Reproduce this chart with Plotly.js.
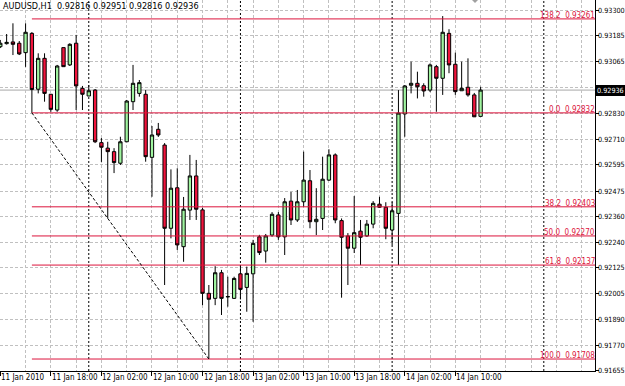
<!DOCTYPE html>
<html><head><meta charset="utf-8">
<script src="https://cdn.plot.ly/plotly-3.0.1.min.js"></script>
<style>html,body{margin:0;padding:0;background:#fff;overflow:hidden}#chart{width:625px;height:386px}</style>
</head><body><div id="chart"></div>
<script>
const chartTitle = 'AUDUSD,H1\u00a0\u00a00.92816 0.92951 0.92816 0.92936';
const firstBar = [2010, 0, 11, 10]; // 11 Jan 2010 10:00, H1 bars

const opens = [
0.93134,0.93148,0.93156,0.93150,0.93107,0.93195,0.92940,0.93081,0.92917,0.92845,
0.93130,0.93051,0.93150,0.92944,0.92909,0.92936,0.92696,0.92671,0.92655,0.92602,
0.92700,0.92883,0.92921,0.92917,0.92629,0.92757,0.92685,0.92305,0.92490,0.92221,
0.92388,0.92544,0.92389,0.92008,0.91985,0.92102,0.91992,0.91985,0.92097,0.92035,
0.92097,0.92266,0.92201,0.92274,0.92366,0.92266,0.92429,0.92343,0.92426,0.92522,
0.92335,0.92350,0.92525,0.92640,0.92340,0.92270,0.92214,0.92292,0.92270,0.92324,
0.92415,0.92401,0.92297,0.92373,0.92827,0.92958,0.92967,0.92956,0.92936,0.93043,
0.92990,0.93195,0.93054,0.92933,0.92949,0.92914,0.92816];
const highs = [
0.93165,0.93192,0.93241,0.93160,0.93241,0.93201,0.93104,0.93104,0.92918,0.93051,
0.93130,0.93150,0.93188,0.92955,0.92959,0.92941,0.92717,0.92700,0.92671,0.92723,
0.92891,0.93051,0.92982,0.92936,0.92772,0.92786,0.92694,0.92574,0.92579,0.92448,
0.92640,0.92617,0.92398,0.92046,0.92132,0.92115,0.92084,0.92084,0.92137,0.92130,
0.92252,0.92275,0.92279,0.92379,0.92379,0.92443,0.92471,0.92480,0.92655,0.92571,
0.92488,0.92632,0.92666,0.92647,0.92350,0.92283,0.92452,0.92343,0.92343,0.92429,
0.92449,0.92424,0.92424,0.92936,0.92959,0.93066,0.93020,0.92967,0.93058,0.93051,
0.93274,0.93214,0.93107,0.93066,0.93081,0.92923,0.92951];
const lows = [
0.93128,0.93144,0.93096,0.93096,0.93042,0.92832,0.92921,0.92883,0.92837,0.92837,
0.93043,0.93046,0.92845,0.92845,0.92909,0.92694,0.92608,0.92350,0.92557,0.92594,
0.92699,0.92845,0.92906,0.92609,0.92449,0.92722,0.92046,0.92259,0.92206,0.92152,
0.92343,0.92343,0.91954,0.91708,0.91954,0.91909,0.91947,0.91982,0.91980,0.91924,
0.91878,0.92183,0.92148,0.92266,0.92252,0.92183,0.92320,0.92334,0.92403,0.92305,
0.92274,0.92297,0.92521,0.92328,0.91988,0.92046,0.92192,0.92137,0.92266,0.92305,
0.92398,0.92255,0.92228,0.92137,0.92723,0.92921,0.92898,0.92906,0.92927,0.92837,
0.92914,0.93013,0.92914,0.92932,0.92906,0.92813,0.92816];
const closes = [
0.93150,0.93154,0.93145,0.93101,0.93200,0.92939,0.93081,0.92921,0.92848,0.93046,
0.93043,0.93145,0.92955,0.92917,0.92933,0.92700,0.92675,0.92655,0.92605,0.92700,
0.92886,0.92967,0.92970,0.92632,0.92731,0.92731,0.92305,0.92488,0.92229,0.92392,
0.92544,0.92392,0.92008,0.91981,0.92102,0.91985,0.91993,0.92076,0.92026,0.92099,
0.92236,0.92194,0.92270,0.92369,0.92266,0.92426,0.92343,0.92426,0.92525,0.92335,
0.92346,0.92529,0.92640,0.92343,0.92264,0.92214,0.92285,0.92264,0.92324,0.92419,
0.92401,0.92305,0.92385,0.92831,0.92955,0.92967,0.92951,0.92932,0.93051,0.92990,
0.93200,0.93051,0.92929,0.92944,0.92914,0.92814,0.92936];

const xTickVals = ['2010-01-11 10:00','2010-01-11 18:00','2010-01-12 02:00','2010-01-12 10:00','2010-01-12 18:00',
  '2010-01-13 02:00','2010-01-13 10:00','2010-01-13 18:00','2010-01-14 02:00','2010-01-14 10:00'];
const xTickText = ['11 Jan 2010','11 Jan 18:00','12 Jan 02:00','12 Jan 10:00','12 Jan 18:00',
  '13 Jan 02:00','13 Jan 10:00','13 Jan 18:00','14 Jan 02:00','14 Jan 10:00'];
const yTickVals = [0.93300,0.93185,0.93065,0.92950,0.92830,0.92710,0.92595,0.92475,0.92360,0.92240,0.92125,0.92005,0.91890,0.91770,0.91655];
const yTickText = ['0.93300','0.93185','0.93065','','0.92830','0.92710','0.92595','0.92475','0.92360','0.92240','0.92125','0.92005','0.91890','0.91770','0.91655'];

const fibLevels = ['138.2','0.0','38.2','50.0','61.8','100.0'];
const fibPrices = [0.93261,0.92832,0.92403,0.92270,0.92137,0.91708];
const fibStart = '2010-01-11 15:00';
const trendFrom = ['2010-01-11 15:00', 0.92832];
const trendTo = ['2010-01-12 19:00', 0.91708];
const daySeparators = ['2010-01-12 00:00','2010-01-13 00:00','2010-01-14 00:00','2010-01-15 00:00'];
const bidPrice = 0.92936;

const HOUR = 3600e3;
const t0 = Date.UTC(firstBar[0], firstBar[1], firstBar[2], firstBar[3]);
function fmt(ms){const d=new Date(ms);const p=n=>String(n).padStart(2,'0');
  return d.getUTCFullYear()+'-'+p(d.getUTCMonth()+1)+'-'+p(d.getUTCDate())+' '+p(d.getUTCHours())+':'+p(d.getUTCMinutes())+':'+p(d.getUTCSeconds());}
const times = opens.map((_,i)=>fmt(t0+i*HOUR));
const xRange = [fmt(t0-0.047*HOUR), fmt(t0+94.1*HOUR)];

const FONT = '"Liberation Sans Narrow","DejaVu Sans Condensed","Arial Narrow",sans-serif';
const FIBCOL = '#DC143C';

const trace = {
  type:'candlestick', x:times, open:opens, high:highs, low:lows, close:closes,
  increasing:{line:{color:'#000000',width:1}, fillcolor:'#A0F5A0'},
  decreasing:{line:{color:'#000000',width:1}, fillcolor:'#F0143C'},
  whiskerwidth:0, hoverinfo:'skip', showlegend:false
};

const shapes = [];
daySeparators.forEach(d=>shapes.push({type:'line',xref:'x',yref:'paper',x0:d,x1:d,y0:0,y1:1,
  line:{color:'#000000',width:1,dash:'2px,2px'},layer:'between'}));
shapes.push({type:'line',xref:'paper',yref:'y',x0:0,x1:1,y0:bidPrice,y1:bidPrice,line:{color:'#A8A8A8',width:1},layer:'between'});
fibPrices.forEach(p=>shapes.push({type:'line',xref:'x',yref:'y',x0:fibStart,x1:xRange[1],y0:p,y1:p,
  line:{color:FIBCOL,width:1},layer:'above'}));
shapes.push({type:'line',xref:'x',yref:'y',x0:trendFrom[0],y0:trendFrom[1],x1:trendTo[0],y1:trendTo[1],
  line:{color:'#000000',width:1,dash:'3px,2px'},layer:'above'});
shapes.push({type:'path',xref:'paper',yref:'paper',path:'M 0.7933 1 L 0.8034 1 L 0.7983 0.992 Z',
  fillcolor:'#A0A0A0',line:{width:0}});

const annotations = [];
annotations.push({xref:'paper',yref:'paper',x:0,y:1,xanchor:'left',yanchor:'top',xshift:1,yshift:1,
  text:chartTitle,showarrow:false,font:{family:FONT,size:9,color:'#000'}});
fibPrices.forEach((p,i)=>annotations.push({xref:'paper',yref:'y',x:0.9966,y:p,xanchor:'right',yanchor:'bottom',
  text:fibLevels[i]+'\u00a0\u00a0'+p.toFixed(5),showarrow:false,borderpad:0,borderwidth:0,yshift:-1,xshift:2,
  font:{family:FONT,size:8,color:FIBCOL}}));
yTickVals.forEach((v,i)=>{ if(yTickText[i]) annotations.push({xref:'paper',yref:'y',x:1,y:v,xanchor:'left',yanchor:'middle',
  xshift:3,borderpad:0,borderwidth:0,text:yTickText[i],showarrow:false,font:{family:FONT,size:7.2,color:'#000'}}); });
annotations.push({xref:'paper',yref:'y',x:1,y:bidPrice,xanchor:'left',yanchor:'middle',
  text:bidPrice.toFixed(5),showarrow:false,bgcolor:'#000000',borderpad:1,borderwidth:0,xshift:1,
  font:{family:FONT,size:7.2,color:'#ffffff'}});
xTickVals.forEach((v,i)=>annotations.push({xref:'x',yref:'paper',x:v,y:0,xanchor:'left',yanchor:'top',
  xshift:1,yshift:-2,borderpad:0,borderwidth:0,text:xTickText[i],showarrow:false,font:{family:FONT,size:8,color:'#000'}}));

const layout = {
  width:625, height:386, margin:{l:0,r:30,t:0,b:15},
  paper_bgcolor:'#ffffff', plot_bgcolor:'#ffffff', showlegend:false, boxgap:0.25,
  font:{family:FONT,size:8,color:'#000'},
  xaxis:{type:'date', range:xRange, rangeslider:{visible:false}, fixedrange:true,
    tickmode:'array', tickvals:xTickVals, ticktext:xTickText, ticks:'outside', ticklen:4, tickcolor:'#000',
    showticklabels:false,
    showline:true, linecolor:'#000', linewidth:1, showgrid:false, zeroline:false,
    minor:{tick0:'2010-01-11 10:00', dtick:4*HOUR, showgrid:true, gridcolor:'#C0C0C0', griddash:'3px,2px', gridwidth:1, ticks:''}},
  yaxis:{side:'right', range:[0.916533,0.933474], fixedrange:true,
    tickmode:'array', tickvals:yTickVals, ticktext:yTickText, ticks:'outside', ticklen:3, tickcolor:'#000',
    showticklabels:false,
    showline:true, linecolor:'#000', linewidth:1, showgrid:true, gridcolor:'#C0C0C0', griddash:'3px,2px', zeroline:false},
  shapes:shapes, annotations:annotations
};
Plotly.newPlot('chart',[trace],layout,{displayModeBar:false,staticPlot:true});
</script></body></html>
